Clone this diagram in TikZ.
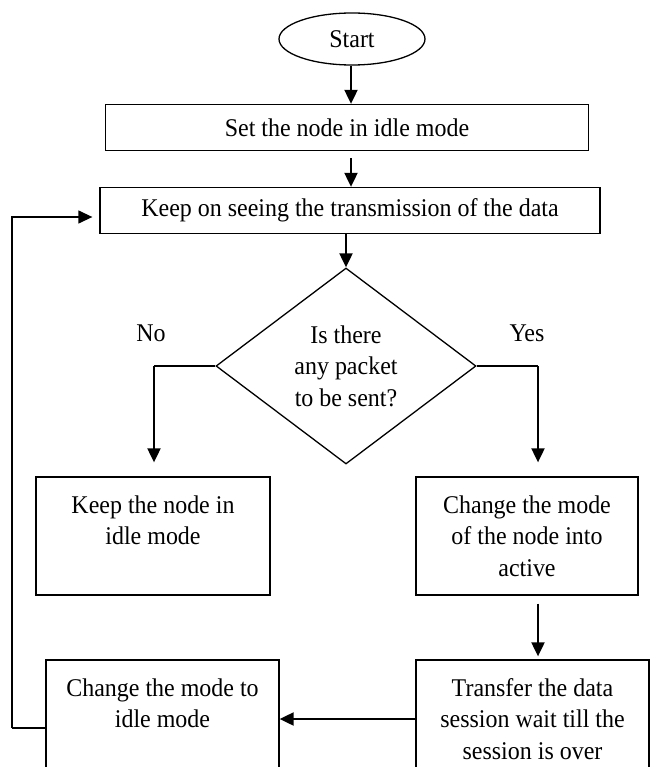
\documentclass[tikz,border=0pt]{standalone}
\usepackage{fontspec}
\setmainfont{Liberation Serif}[FakeStretch=0.94]
\usepackage{tikz}
\usetikzlibrary{shapes.geometric,arrows.meta}
\tikzset{
  box/.style={draw, line width=1.3pt, rectangle, align=center, inner sep=0pt},
  flow/.style={line width=2pt, -{Triangle[length=14pt,width=13pt]}},
  wire/.style={line width=1.3pt}
}
\begin{document}
\begin{tikzpicture}[x=1pt,y=-1pt,font=\fontsize{25.5}{31.5}\selectfont]
\useasboundingbox (0,0) rectangle (651,767);
\node[draw, ellipse, line width=1.3pt, minimum width=146pt, minimum height=52pt, inner sep=0pt] (start) at (352,39) {Start};
\node[box, minimum width=483pt, minimum height=46pt] (set) at (347,127.5) {Set the node in idle mode};
\node[box, minimum width=500pt, minimum height=46pt] (keep) at (350,210.5) {Keep on seeing the transmission of the data};
\node[draw, diamond, line width=1.3pt, minimum width=260pt, minimum height=196pt, inner sep=0pt, align=center] (ask) at (346,366) {Is there\\any packet\\to be sent?};
\node (no) at (151,333) {No};
\node (yes) at (527,333) {Yes};
\node[box, minimum width=234pt, minimum height=118pt] (idle) at (153,536) {Keep the node in\\idle mode\\\mbox{}};
\node[box, minimum width=222pt, minimum height=118pt] (active) at (527,536) {Change the mode\\of the node into\\active};
\node[box, minimum width=233pt, minimum height=118pt] (transfer) at (532.5,719) {Transfer the data\\session wait till the\\session is over};
\node[box, minimum width=233pt, minimum height=118pt] (back) at (162.5,719) {Change the mode to\\idle mode\\\mbox{}};
\coordinate (rail) at (12,217);
\coordinate (nobend) at (154,366);
\coordinate (yesbend) at (538,366);
\coordinate (railend) at (12,728);
\draw[flow] (start.south -| 351,0) -- (set.north -| 351,0);
\draw[flow] ([yshift=-7pt]set.south -| 351,0) -- (keep.north -| 351,0);
\draw[flow] (keep.south -| ask.north) -- (ask.north);
\draw[wire] (ask.west) -- (nobend);
\draw[flow] (nobend) -- ([yshift=14pt]idle.north -| nobend);
\draw[wire] (ask.east) -- (yesbend);
\draw[flow] (yesbend) -- ([yshift=14pt]active.north -| yesbend);
\draw[flow] ([xshift=11pt,yshift=-8pt]active.south) -- ([xshift=5.5pt,yshift=3pt]transfer.north);
\draw[flow] (transfer) -- (back);
\draw[wire] (back.west |- railend) -- (railend);
\draw[wire, -{Triangle[length=14pt,width=13pt]}, shorten >=7pt] (railend) -- (rail) -- (rail -| keep.west);
\end{tikzpicture}
\end{document}
